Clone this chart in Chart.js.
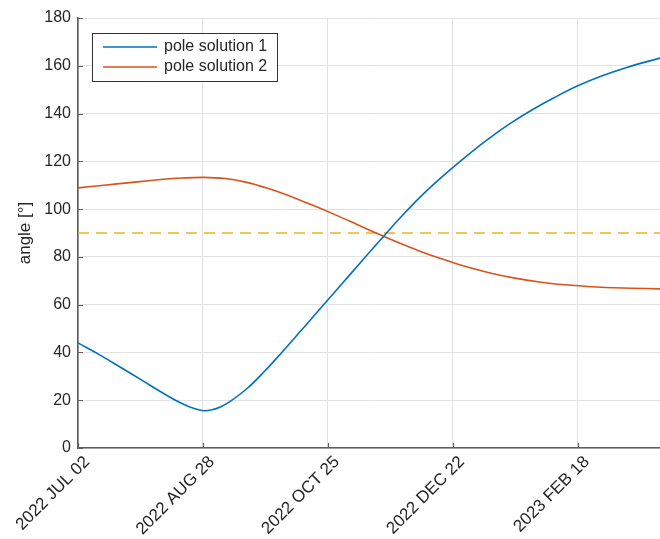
<!DOCTYPE html>
<html>
<head>
<meta charset="utf-8">
<script src="https://cdn.jsdelivr.net/npm/chart.js@4.4.1/dist/chart.umd.min.js"></script>
<style>
    html, body { margin: 0; padding: 0; background: #fff; }
</style>
</head>
<body>
<canvas id="poleChart" width="660" height="539"></canvas>
<script>
// days since 2022 JUL 02
const tickDays = [0, 57.75, 115.5, 173.25, 231];
const tickLabels = ['2022 JUL 02', '2022 AUG 28', '2022 OCT 25', '2022 DEC 22', '2023 FEB 18'];
const lastDay = 269;

const sol1Days = [0, 10, 20, 30, 40, 48, 54, 58, 62, 66, 70, 78, 86, 94, 102, 110, 118, 126, 134, 142, 150, 158, 166, 174, 182, 190, 200, 210, 220, 231, 242, 254, 269];
const sol1Angles = [44, 39.0, 33.6, 28.1, 22.6, 18.6, 16.4, 15.6, 16.0, 17.3, 19.3, 24.8, 31.9, 39.8, 48.0, 56.3, 64.6, 72.9, 81.2, 89.4, 97.4, 104.9, 111.7, 118.0, 124.0, 129.6, 136.0, 141.6, 146.6, 151.6, 155.7, 159.4, 163.2];

const sol2Days = [0, 12, 24, 36, 48, 58, 68, 78, 88, 98, 108, 118, 128, 138, 148, 158, 168, 178, 190, 202, 214, 228, 244, 256, 269];
const sol2Angles = [108.9, 110.0, 111.1, 112.2, 113.0, 113.3, 112.8, 111.2, 108.6, 105.4, 101.8, 98.0, 94.0, 89.9, 86.0, 82.4, 79.2, 76.3, 73.4, 71.1, 69.4, 68.1, 67.2, 66.9, 66.6];

const refAngle = 90;

const axisColor = '#5f5f5f';
const textColor = '#262626';

function toPoints(xs, ys) {
    return xs.map((x, i) => ({ x: x, y: ys[i] }));
}

// legend drawn as a boxed inset in the upper left, like the original
const boxLegend = {
    id: 'boxLegend',
    afterDatasetsDraw(chart) {
        const ctx = chart.ctx;
        const area = chart.chartArea;
        const items = chart.data.datasets.filter(d => d.label);
        const x0 = area.left + 14, y0 = area.top + 15;
        const w = 185, h = 48;
        ctx.save();
        ctx.fillStyle = '#fff';
        ctx.fillRect(x0, y0, w, h);
        ctx.strokeStyle = '#333';
        ctx.lineWidth = 1;
        ctx.strokeRect(x0 + 0.5, y0 + 0.5, w, h);
        ctx.font = '16px "Liberation Sans", Arial, sans-serif';
        ctx.textBaseline = 'middle';
        items.forEach((d, i) => {
            const y = y0 + 14 + i * 20;
            ctx.strokeStyle = d.borderColor;
            ctx.lineWidth = d.borderWidth;
            ctx.beginPath();
            ctx.moveTo(x0 + 11, y);
            ctx.lineTo(x0 + 65, y);
            ctx.stroke();
            ctx.fillStyle = textColor;
            ctx.fillText(d.label, x0 + 72, y);
        });
        ctx.restore();
    }
};

// small tick marks pointing into the plot
const innerTicks = {
    id: 'innerTicks',
    afterDraw(chart) {
        const ctx = chart.ctx;
        const area = chart.chartArea;
        const xs = chart.scales.x, ys = chart.scales.y;
        ctx.save();
        ctx.strokeStyle = axisColor;
        ctx.lineWidth = 1.2;
        ctx.beginPath();
        xs.ticks.forEach(t => {
            const px = Math.round(xs.getPixelForValue(t.value)) + 0.5;
            ctx.moveTo(px, area.bottom);
            ctx.lineTo(px, area.bottom - 5);
        });
        ys.ticks.forEach(t => {
            const py = Math.round(ys.getPixelForValue(t.value)) + 0.5;
            ctx.moveTo(area.left, py);
            ctx.lineTo(area.left + 5, py);
        });
        ctx.stroke();
        ctx.restore();
    }
};

Chart.defaults.font.family = '"Liberation Sans", Arial, sans-serif';
Chart.defaults.color = textColor;

const ctx = document.getElementById('poleChart').getContext('2d');
new Chart(ctx, {
    type: 'line',
    data: {
        datasets: [{
            label: 'pole solution 1',
            data: toPoints(sol1Days, sol1Angles),
            borderColor: '#0072BD',
            borderWidth: 1.6,
            pointRadius: 0,
            tension: 0.4
        }, {
            label: 'pole solution 2',
            data: toPoints(sol2Days, sol2Angles),
            borderColor: '#D95319',
            borderWidth: 1.6,
            pointRadius: 0,
            tension: 0.4
        }, {
            data: toPoints([0, lastDay], [refAngle, refAngle]),
            borderColor: 'rgba(237, 177, 32, 0.75)',
            borderWidth: 2,
            borderDash: [11, 7],
            pointRadius: 0
        }]
    },
    options: {
        responsive: false,
        animation: false,
        layout: { padding: { top: 18, left: 0, right: 0, bottom: 0 } },
        plugins: {
            legend: { display: false },
            tooltip: { enabled: false }
        },
        scales: {
            x: {
                type: 'linear',
                min: 0,
                max: lastDay,
                afterBuildTicks: scale => {
                    scale.ticks = tickDays.map(v => ({ value: v }));
                },
                afterFit: scale => { scale.height = 91; },
                ticks: {
                    callback: (value, index) => tickLabels[index],
                    minRotation: 45,
                    maxRotation: 45,
                    autoSkip: false,
                    padding: 4,
                    labelOffset: 9,
                    color: textColor,
                    font: { size: 17 }
                },
                grid: { color: '#e2e2e2', drawTicks: false },
                border: { color: axisColor, width: 1.6 }
            },
            y: {
                min: 0,
                max: 180,
                afterFit: scale => { scale.width = 78; },
                ticks: {
                    stepSize: 20,
                    padding: 7,
                    color: textColor,
                    font: { size: 16 }
                },
                grid: { color: '#e2e2e2', drawTicks: false },
                border: { color: axisColor, width: 1.6 },
                title: {
                    display: true,
                    text: 'angle [°]',
                    color: textColor,
                    font: { size: 17 },
                    padding: { top: 15, bottom: 0 }
                }
            }
        }
    },
    plugins: [boxLegend, innerTicks]
});
</script>
</body>
</html>
